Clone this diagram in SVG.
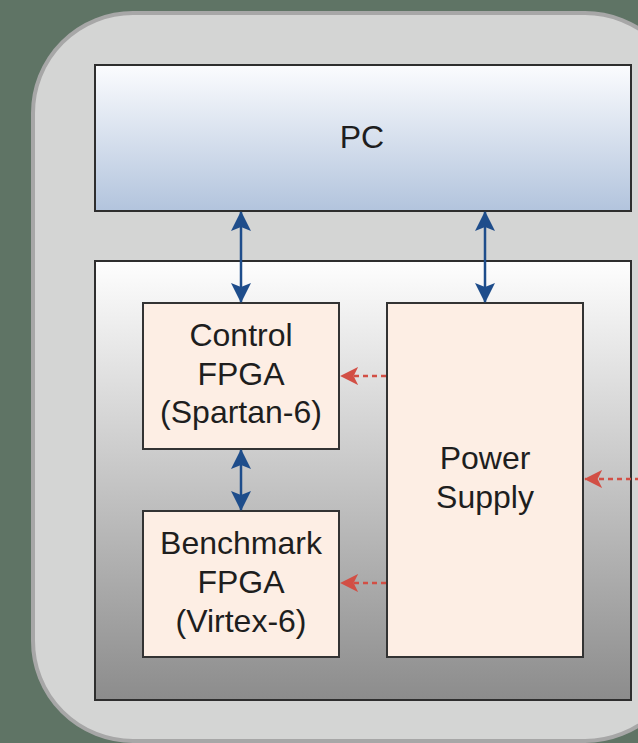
<svg xmlns="http://www.w3.org/2000/svg" width="638" height="743" viewBox="0 0 638 743">
<defs>
<linearGradient id="gPC" x1="0" y1="0" x2="0" y2="1">
<stop offset="0" stop-color="#fbfcfe"/>
<stop offset="1" stop-color="#b2c4dd"/>
</linearGradient>
<linearGradient id="gBoard" x1="0" y1="0" x2="0" y2="1">
<stop offset="0" stop-color="#fefefe"/>
<stop offset="1" stop-color="#8c8c8c"/>
</linearGradient>
<marker id="bArr" viewBox="0 0 20 20" refX="19" refY="10" markerWidth="20" markerHeight="20" markerUnits="userSpaceOnUse" orient="auto-start-reverse">
<path d="M0,0 L20,10 L0,20 L4,10 Z" fill="#1e4d8b"/>
</marker>
<marker id="rArr" viewBox="0 0 20 20" refX="19" refY="10" markerWidth="18" markerHeight="18" markerUnits="userSpaceOnUse" orient="auto">
<path d="M0,0 L20,10 L0,20 L5,10 Z" fill="#d24f45"/>
</marker>
</defs>
<style>
.box{stroke:#2e2e2e;stroke-width:2}
.chip{fill:#fdeee4;stroke:#333;stroke-width:2}
.t{font-family:"Liberation Sans",Arial,sans-serif;font-size:32px;fill:#1e1e1e;text-anchor:middle}
.blue{stroke:#1e4d8b;stroke-width:2.5;fill:none;marker-start:url(#bArr);marker-end:url(#bArr)}
.red{stroke:#d24f45;stroke-width:2.5;fill:none;stroke-dasharray:5 4;marker-end:url(#rArr)}
</style>
<rect x="0" y="0" width="638" height="743" fill="#5f7465"/>
<g id="frame">
<rect x="33" y="13" width="652" height="728" rx="100" ry="100" fill="#d4d5d4" stroke="#a7a7a7" stroke-width="4"/>
</g>
<g id="pc">
<rect class="box" x="95" y="65" width="536" height="146" fill="url(#gPC)"/>
<text class="t" x="362" y="148">PC</text>
</g>
<g id="board">
<rect class="box" x="95" y="261" width="536" height="439" fill="url(#gBoard)"/>
</g>
<g id="control-fpga">
<rect class="chip" x="143" y="303" width="196" height="146"/>
<text class="t" x="241" y="346">Control</text>
<text class="t" x="241" y="385">FPGA</text>
<text class="t" x="241" y="423">(Spartan-6)</text>
</g>
<g id="benchmark-fpga">
<rect class="chip" x="143" y="511" width="196" height="146"/>
<text class="t" x="241" y="554">Benchmark</text>
<text class="t" x="241" y="593">FPGA</text>
<text class="t" x="241" y="632">(Virtex-6)</text>
</g>
<g id="power-supply">
<rect class="chip" x="387" y="303" width="196" height="354"/>
<text class="t" x="485" y="469">Power</text>
<text class="t" x="485" y="508">Supply</text>
</g>
<g id="connectors">
<line class="blue" x1="241" y1="212" x2="241" y2="302"/>
<line class="blue" x1="485" y1="212" x2="485" y2="302"/>
<line class="blue" x1="241" y1="450" x2="241" y2="510"/>
<line class="red" x1="386" y1="376" x2="341" y2="376"/>
<line class="red" x1="386" y1="583" x2="341" y2="583"/>
<line class="red" x1="640" y1="479" x2="585" y2="479"/>
</g>
</svg>
